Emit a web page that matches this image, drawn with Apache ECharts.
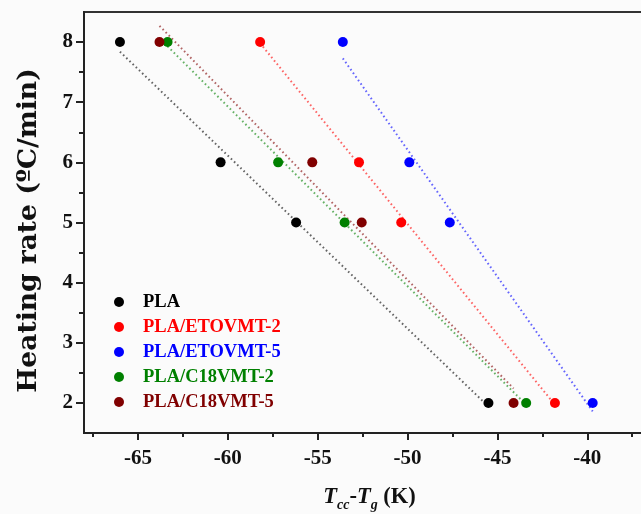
<!DOCTYPE html>
<html>
<head>
<meta charset="utf-8">
<script src="https://cdn.jsdelivr.net/npm/echarts@6/dist/echarts.min.js"></script>
<style>
  html, body { margin: 0; padding: 0; background: #fbfbfb; }
  #main { width: 641px; height: 514px; }
</style>
</head>
<body>
<div id="main"></div>
<script>
var chartDom = document.getElementById('main');
var myChart = echarts.init(chartDom);
var option;

// heating rates (y) and Tcc - Tg values (x)
var names = ['PLA', 'PLA/ETOVMT-2', 'PLA/ETOVMT-5', 'PLA/C18VMT-2', 'PLA/C18VMT-5'];
var colors = ['#000000', '#ff0000', '#0000ff', '#008000', '#800000'];
var rates = [8, 6, 5, 2];
var tPLA = [-66.0, -60.4, -56.2, -45.5];
var tETO2 = [-58.2, -52.7, -50.35, -41.8];
var tETO5 = [-53.6, -49.9, -47.65, -39.7];
var tC182 = [-63.35, -57.2, -53.5, -43.4];
var tC185 = [-63.8, -55.3, -52.55, -44.1];
// dotted fit lines: start x/y, end x/y
var fitX0 = [-66.0, -58.2, -53.6, -63.35, -63.8];
var fitY0 = [7.84, 7.98, 7.73, 7.93, 8.27];
var fitX1 = [-45.5, -41.8, -39.7, -43.4, -44.1];
var fitY1 = [1.94, 1.97, 1.86, 1.97, 2.24];

var xLabels = [-65, -60, -55, -50, -45, -40];
var xMinor = [-67.5, -62.5, -57.5, -52.5, -47.5, -42.5, -37.5];
var yLabels = [2, 3, 4, 5, 6, 7, 8];
var yMinor = [2.5, 3.5, 4.5, 5.5, 6.5, 7.5];

var allT = [tPLA, tETO2, tETO5, tC182, tC185];
var font = 'Liberation Serif';

var series = [];
for (var i = 0; i < names.length; i++) {
  series.push({
    name: names[i] + ' fit',
    type: 'line',
    symbol: 'none',
    silent: true,
    z: 1,
    lineStyle: { color: colors[i], width: 2, type: [1.6, 2.8], opacity: 0.6 },
    data: [[fitX0[i], fitY0[i]], [fitX1[i], fitY1[i]]]
  });
}
for (var i = 0; i < names.length; i++) {
  var pts = [];
  for (var j = 0; j < rates.length; j++) pts.push([allT[i][j], rates[j]]);
  series.push({
    name: names[i],
    type: 'scatter',
    symbolSize: 10,
    z: 3,
    itemStyle: { color: colors[i], opacity: 1 },
    data: pts
  });
}

var legendData = names.map(function (n, i) {
  return { name: n, icon: 'circle', itemStyle: { color: colors[i] }, textStyle: { color: colors[i] } };
});

var labelStyle = { fontFamily: font, fontWeight: 'bold', fontSize: 21, color: '#111' };

option = {
  backgroundColor: '#fbfbfb',
  animation: false,
  grid: {
    left: 84, right: -2, top: 12, bottom: 81,
    outerBoundsMode: 'none',
    show: true, borderColor: '#333', borderWidth: 2, backgroundColor: 'transparent'
  },
  legend: {
    orient: 'vertical',
    left: 109, top: 287,
    itemWidth: 10, itemHeight: 10, itemGap: 5,
    textStyle: { fontFamily: font, fontWeight: 'bold', fontSize: 18.5, lineHeight: 20, padding: [0, 0, 0, 14] },
    data: legendData
  },
  xAxis: [
    {
      type: 'value', min: -68, max: -36.9, position: 'bottom',
      splitLine: { show: false },
      axisLine: { onZero: false, lineStyle: { color: '#222', width: 2 } },
      axisTick: { customValues: xLabels, length: 7, lineStyle: { color: '#222', width: 2 } },
      axisLabel: Object.assign({ customValues: xLabels, margin: 15 }, labelStyle),
      name: '{i|T}{s|cc}{n|-}{i|T}{s|g}{n| (K)}',
      nameLocation: 'middle', nameGap: 50,
      nameTextStyle: {
        padding: [0, 0, 0, 12],
        rich: {
          i: { fontFamily: font, fontWeight: 'bold', fontStyle: 'italic', fontSize: 22.5, color: '#111' },
          n: { fontFamily: font, fontWeight: 'bold', fontSize: 22.5, color: '#111' },
          s: { fontFamily: font, fontWeight: 'bold', fontStyle: 'italic', fontSize: 14, color: '#111', padding: [15, 0, 0, 0] }
        }
      }
    },
    {
      type: 'value', min: -68, max: -36.9, position: 'bottom',
      splitLine: { show: false },
      axisLine: { show: false, onZero: false },
      axisTick: { customValues: xMinor, length: 4, lineStyle: { color: '#222', width: 2 } },
      axisLabel: { show: false }
    }
  ],
  yAxis: [
    {
      type: 'value', min: 1.5, max: 8.5, position: 'left',
      splitLine: { show: false },
      axisLine: { onZero: false, lineStyle: { color: '#222', width: 2 } },
      axisTick: { customValues: yLabels, length: 8, lineStyle: { color: '#222', width: 2 } },
      axisLabel: Object.assign({ customValues: yLabels, margin: 11 }, labelStyle),
      name: 'Heating rate (\u00baC/min)',
      nameLocation: 'middle', nameGap: 41, nameRotate: 90,
      nameTextStyle: { fontFamily: 'DejaVu Serif', fontWeight: 'bold', fontSize: 26.5, color: '#111', padding: [0, 16, 0, 0] }
    },
    {
      type: 'value', min: 1.5, max: 8.5, position: 'left',
      splitLine: { show: false },
      axisLine: { show: false, onZero: false },
      axisTick: { customValues: yMinor, length: 5, lineStyle: { color: '#222', width: 2 } },
      axisLabel: { show: false }
    }
  ],
  series: series
};

option && myChart.setOption(option);
</script>
</body>
</html>
